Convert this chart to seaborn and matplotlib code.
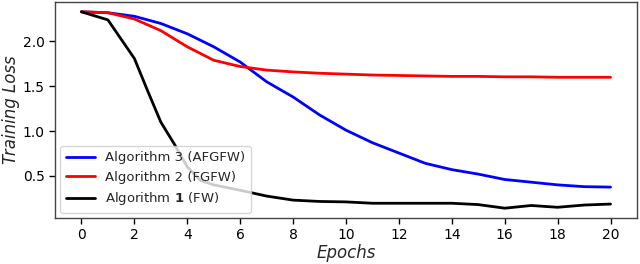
import matplotlib
matplotlib.use("Agg")
import matplotlib.pyplot as plt
import seaborn as sns
import pandas as pd

epochs = list(range(0, 21))
afgfw_loss = [2.33, 2.32, 2.28, 2.20, 2.085, 1.94, 1.77, 1.55, 1.38, 1.18, 1.01,
              0.87, 0.755, 0.64, 0.57, 0.52, 0.46, 0.43, 0.40, 0.38, 0.375]
fgfw_loss = [2.33, 2.32, 2.25, 2.12, 1.94, 1.79, 1.72, 1.68, 1.66, 1.645, 1.635,
             1.625, 1.62, 1.615, 1.61, 1.61, 1.605, 1.605, 1.60, 1.60, 1.60]
fw_epochs = [0, 1, 2, 2.5, 3, 3.5, 4, 4.5, 5, 6, 7, 8, 9, 10, 11, 12, 13, 14, 15,
             16, 17, 18, 19, 20]
fw_loss = [2.33, 2.24, 1.81, 1.45, 1.10, 0.86, 0.60, 0.45, 0.40, 0.34, 0.275, 0.23,
           0.215, 0.21, 0.195, 0.195, 0.195, 0.195, 0.18, 0.14, 0.17, 0.15, 0.175, 0.186]

labels = ["Algorithm 3 (AFGFW)", "Algorithm 2 (FGFW)", "Algorithm $\\mathbf{1}$ (FW)"]
colors = ["#0000ff", "#ff0000", "#000000"]
xticks = list(range(0, 21, 2))

sns.set_style("ticks")
plt.rcParams["font.family"] = ["DejaVu Sans"]

fig = plt.figure(figsize=(6.4, 2.64), dpi=100)
ax = fig.add_axes([55 / 640, 1 - 218 / 264, (637 - 55) / 640, (218 - 2) / 264])

series = [(epochs, afgfw_loss), (epochs, fgfw_loss), (fw_epochs, fw_loss)]
for (xs, ys), lab, col in zip(series, labels, colors):
    df = pd.DataFrame({"Epochs": xs, "Loss": ys})
    sns.lineplot(data=df, x="Epochs", y="Loss", ax=ax, color=col, linewidth=2, label=lab)

ax.set_xlim(-1, 21)
ax.set_xticks(xticks)
ax.set_xticklabels([str(t) for t in xticks])
ax.set_xlabel("Epochs", fontsize=12, style="italic", labelpad=1)
ax.set_ylabel("Training Loss", fontsize=12, style="italic", labelpad=2)
ax.tick_params(labelsize=10, length=4, width=1, colors="black")
for s in ax.spines.values():
    s.set_color("#444444")
    s.set_linewidth(1)
leg = ax.legend(loc="lower left", fontsize=9.5, frameon=True, fancybox=True,
                framealpha=0.8, handlelength=2.2, borderaxespad=0.4)
leg.get_frame().set_edgecolor("#cccccc")

fig.savefig("out.png", dpi=100)
